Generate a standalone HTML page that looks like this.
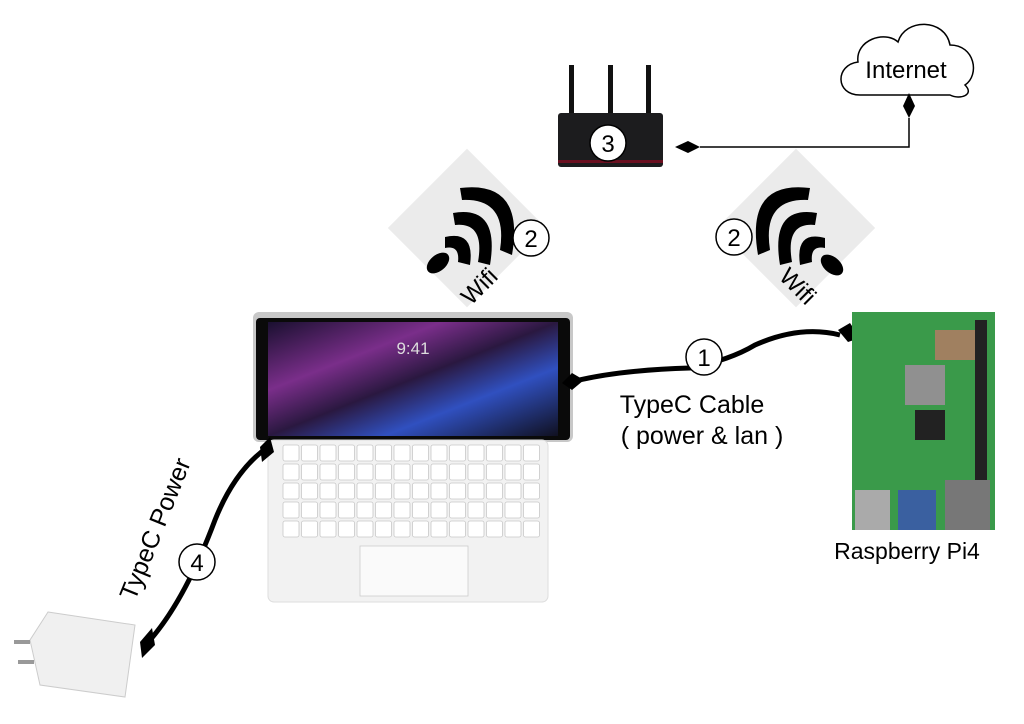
<!DOCTYPE html>
<html><head><meta charset="utf-8"><style>
html,body{margin:0;padding:0;background:#fff;}
svg text{font-family:"Liberation Sans",sans-serif;}
</style></head><body>
<svg width="1024" height="719" viewBox="0 0 1024 719" xmlns="http://www.w3.org/2000/svg">
<defs>
<linearGradient id="scr" x1="0" y1="0" x2="1" y2="1">
<stop offset="0" stop-color="#1a1030"/><stop offset="0.3" stop-color="#7a2e8a"/><stop offset="0.5" stop-color="#2a1840"/><stop offset="0.7" stop-color="#3050c0"/><stop offset="1" stop-color="#101020"/></linearGradient>
<pattern id="keys" x="282" y="444" width="18.5" height="19" patternUnits="userSpaceOnUse">
<rect x="1" y="1" width="16" height="16" rx="2" fill="#fff" stroke="#c8c8c8" stroke-width="0.8"/>
</pattern>
</defs>
<!-- cloud -->
<path d="M860,95 C835,95 835,65 858,62 C855,40 885,30 898,42 C905,18 945,18 950,45 C975,45 980,75 965,85 C975,95 960,100 950,95 Z" fill="#fff" stroke="#000" stroke-width="1.5"/>
<text x="906" y="78" font-size="24" text-anchor="middle">Internet</text>
<!-- router -->
<rect x="569" y="65" width="5" height="50" fill="#111"/>
<rect x="608" y="65" width="5" height="50" fill="#111"/>
<rect x="646" y="65" width="5" height="50" fill="#111"/>
<rect x="558" y="113" width="105" height="54" rx="3" fill="#1c1c1e"/>
<rect x="558" y="160" width="105" height="3" fill="#6a1020"/>
<circle cx="608" cy="143" r="18" fill="#fff" stroke="#000" stroke-width="1.5"/>
<text x="608" y="152" font-size="24" text-anchor="middle">3</text>
<!-- router-internet line -->
<polyline points="700,147 909,147 909,118" fill="none" stroke="#000" stroke-width="1.5"/>
<polygon points="675,147 688,141 700,147 688,153" fill="#000"/>
<polygon points="909,93 915,106 909,118 903,106" fill="#000"/>
<!-- wifi left -->
<rect x="411" y="172" width="112" height="112" transform="rotate(45 467 228)" fill="#ebebeb"/>
<g fill="#000">
<ellipse cx="438" cy="263" rx="13" ry="8" transform="rotate(-40 438 263)"/>
<path d="M445,237 Q475,230 470,265 L458,262 Q460,245 445,248 Z"/>
<path d="M453,213 Q500,205 490,265 L478,262 Q485,222 455,225 Z"/>
<path d="M460,188 Q525,180 512,255 L500,250 Q508,198 462,200 Z"/>
</g>
<circle cx="531" cy="238" r="18" fill="#fff" stroke="#000" stroke-width="1.5"/>
<text x="531" y="247" font-size="24" text-anchor="middle">2</text>
<text x="485" y="292" font-size="24" text-anchor="middle" transform="rotate(-45 485 292)">Wifi</text>
<!-- wifi right -->
<rect x="740" y="172" width="112" height="112" transform="rotate(45 796 228)" fill="#ebebeb"/>
<g fill="#000">
<ellipse cx="832" cy="265" rx="13" ry="8" transform="rotate(40 832 265)"/>
<path d="M825,238 Q795,230 800,265 L812,262 Q810,245 825,248 Z"/>
<path d="M817,213 Q770,205 780,265 L792,262 Q785,222 815,225 Z"/>
<path d="M810,188 Q745,180 758,255 L770,250 Q762,198 808,200 Z"/>
</g>
<circle cx="734" cy="237" r="18" fill="#fff" stroke="#000" stroke-width="1.5"/>
<text x="734" y="246" font-size="24" text-anchor="middle">2</text>
<text x="792" y="292" font-size="24" text-anchor="middle" transform="rotate(45 792 292)">Wifi</text>
<!-- ipad -->
<rect x="253" y="312" width="320" height="130" rx="6" fill="#c8c8c8"/>
<rect x="256" y="318" width="314" height="122" rx="4" fill="#0a0a0a"/>
<rect x="268" y="322" width="290" height="114" fill="url(#scr)"/>
<text x="413" y="354" font-size="17" fill="#ddd" text-anchor="middle">9:41</text>
<rect x="268" y="440" width="280" height="162" rx="6" fill="#f2f2f2" stroke="#ddd"/>
<rect x="282" y="444" width="259" height="95" fill="url(#keys)"/>
<rect x="360" y="546" width="108" height="50" fill="#fafafa" stroke="#ccc" stroke-width="0.8"/>
<!-- cable 1 -->
<path d="M575,381 Q620,370 690,368 Q730,360 755,345 Q800,325 840,335" fill="none" stroke="#000" stroke-width="5"/>
<polygon points="562,383 572,373 584,380 572,390" fill="#000"/>
<polygon points="838,330 850,323 860,338 848,342" fill="#000"/>
<circle cx="704" cy="357" r="18" fill="#fff" stroke="#000" stroke-width="1.5"/>
<text x="704" y="366" font-size="24" text-anchor="middle">1</text>
<text x="692" y="413" font-size="25" text-anchor="middle">TypeC Cable</text>
<text x="702" y="444" font-size="25" text-anchor="middle">( power &amp; lan )</text>
<!-- raspberry pi -->
<rect x="852" y="312" width="143" height="218" fill="#3a9a4a"/>
<rect x="935" y="330" width="40" height="30" fill="#a08060"/>
<rect x="905" y="365" width="40" height="40" fill="#909090"/>
<rect x="915" y="410" width="30" height="30" fill="#222"/>
<rect x="945" y="480" width="45" height="50" fill="#777"/>
<rect x="855" y="490" width="35" height="40" fill="#aaa"/>
<rect x="898" y="490" width="38" height="40" fill="#3a60a0"/>
<rect x="975" y="320" width="12" height="160" fill="#222"/>
<text x="907" y="559" font-size="23" text-anchor="middle">Raspberry Pi4</text>
<!-- cable 4 -->
<path d="M268,447 Q235,470 215,520 Q185,600 150,640" fill="none" stroke="#000" stroke-width="5"/>
<polygon points="270,437 274,452 262,462 260,447" fill="#000"/>
<polygon points="152,628 155,645 142,658 140,642" fill="#000"/>
<circle cx="197" cy="562" r="18" fill="#fff" stroke="#000" stroke-width="1.5"/>
<text x="197" y="571" font-size="24" text-anchor="middle">4</text>
<text x="163" y="532" font-size="25" text-anchor="middle" transform="rotate(-68 163 532)">TypeC Power</text>
<!-- charger -->
<polygon points="48,612 135,625 125,697 40,685 30,640" fill="#f0f0f0" stroke="#ccc"/>
<rect x="14" y="640" width="16" height="4" fill="#999"/>
<rect x="18" y="660" width="16" height="4" fill="#999"/>
</svg>
</body></html>
